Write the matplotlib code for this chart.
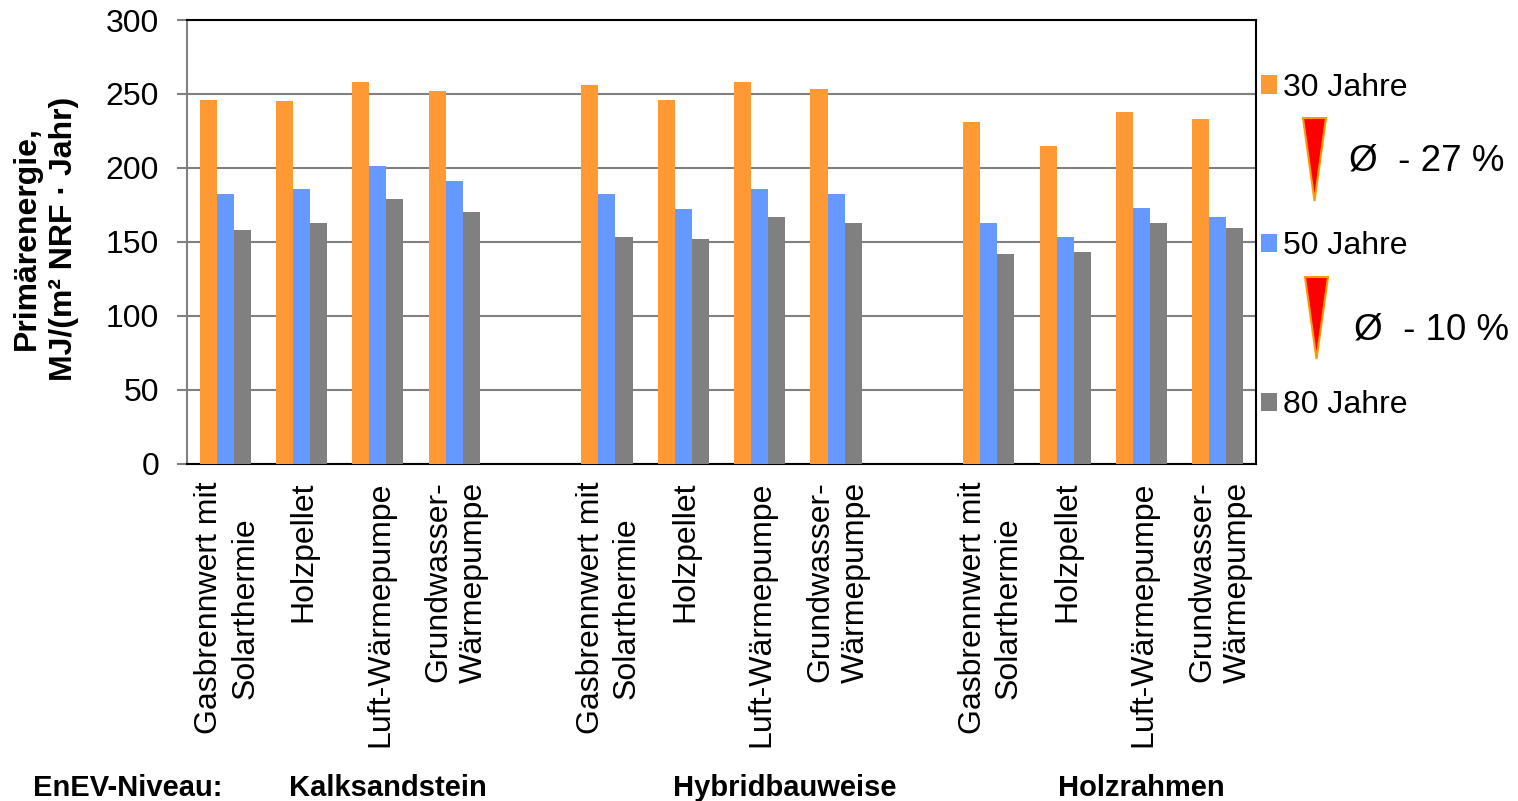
#!/usr/bin/env python
import matplotlib
matplotlib.use('Agg')
import matplotlib.pyplot as plt
import numpy as np
from matplotlib.patches import Polygon
from matplotlib.transforms import ScaledTranslation

plt.rcParams['font.family'] = ['Liberation Sans', 'DejaVu Sans']

W, H = 1518, 801

systems = ['Gasbrennwert mit\nSolarthermie', 'Holzpellet', 'Luft-Wärmepumpe', 'Grundwasser-\nWärmepumpe']
categories = systems + [''] + systems + [''] + systems
groups = ['Kalksandstein', 'Hybridbauweise', 'Holzrahmen']

y30 = [246, 245, 258, 252, 0, 256, 246, 258, 253, 0, 231, 215, 238, 233]
y50 = [182, 186, 201, 191, 0, 182, 172, 186, 182, 0, 163, 153, 173, 167]
y80 = [158, 163, 179, 170, 0, 153, 152, 167, 163, 0, 142, 143, 163, 159]

colors = ['#ff9933', '#6699ff', '#808080']


def figx(px):
	return px / W


def figy(py):
	return 1 - py / H


fig = plt.figure(figsize=(W / 100, H / 100), dpi=100)
ax = fig.add_axes([figx(187), figy(463.5), (1256 - 187) / W, (463.5 - 20) / H])

x = np.arange(len(categories))
bw = 0.223
ax.bar(x - bw, y30, bw, color=colors[0], label='30 Jahre', zorder=3)
ax.bar(x, y50, bw, color=colors[1], label='50 Jahre', zorder=3)
ax.bar(x + bw, y80, bw, color=colors[2], label='80 Jahre', zorder=3)

ax.set_xlim(-0.5, len(categories) - 0.5)
ax.set_ylim(0, 300)
ax.set_yticks(range(0, 301, 50))
ax.yaxis.grid(True, color='#808080', linewidth=1.5, zorder=0)
ax.set_axisbelow(True)

ax.set_xticks(x)
ax.set_xticklabels(categories, rotation=90, ha='center', va='top', multialignment='center', fontsize=23,
	linespacing=1.25)
ax.tick_params(axis='x', length=0, pad=13)
ax.tick_params(axis='y', labelsize=23, length=7, width=1.5, color='#808080', pad=13)

# Beschriftung leicht nach rechts, wie im Original
shift = ScaledTranslation(2 / 100, 0, fig.dpi_scale_trans)
for lab in ax.get_xticklabels():
	lab.set_transform(lab.get_transform() + shift)

ax.spines['left'].set_color('#808080')
for s in ['left', 'right', 'top', 'bottom']:
	ax.spines[s].set_linewidth(1.5)

fig.text(figx(45.5), figy(238.5), 'Primärenergie,\nMJ/(m² NRF · Jahr)', rotation=90, ha='center', va='center',
	multialignment='center', fontsize=23, fontweight='bold', linespacing=1.28)

ax.legend(loc='center left', bbox_to_anchor=(figx(1261), figy(246.5)), bbox_transform=fig.transFigure,
	frameon=False, fontsize=23, labelspacing=4.03, handlelength=0.5, handleheight=0.5,
	handletextpad=0.19, borderpad=0, borderaxespad=0)

# Pfeile und Differenzen neben der Legende
for left, right, top, bottom, label, tx, ty in [
	(1303, 1326, 118, 201, 'Ø  - 27 %', 1349, 161),
	(1305, 1328, 277, 359, 'Ø  - 10 %', 1354, 330)]:
	tri = Polygon([(figx(left), figy(top)), (figx(right), figy(top)), (figx((left + right) / 2), figy(bottom))],
		closed=True, transform=fig.transFigure, facecolor='#ff0000', edgecolor='#ff9900', linewidth=1.5)
	fig.add_artist(tri)
	fig.text(figx(tx), figy(ty), label, ha='left', va='center', fontsize=26.5)

fig.text(figx(33), figy(788), 'EnEV-Niveau:', ha='left', va='center', fontsize=21, fontweight='bold')
for name, cx in zip(groups, [388, 785, 1141]):
	fig.text(figx(cx), figy(788), name, ha='center', va='center', fontsize=21, fontweight='bold')

fig.savefig('out.png', dpi=100)
